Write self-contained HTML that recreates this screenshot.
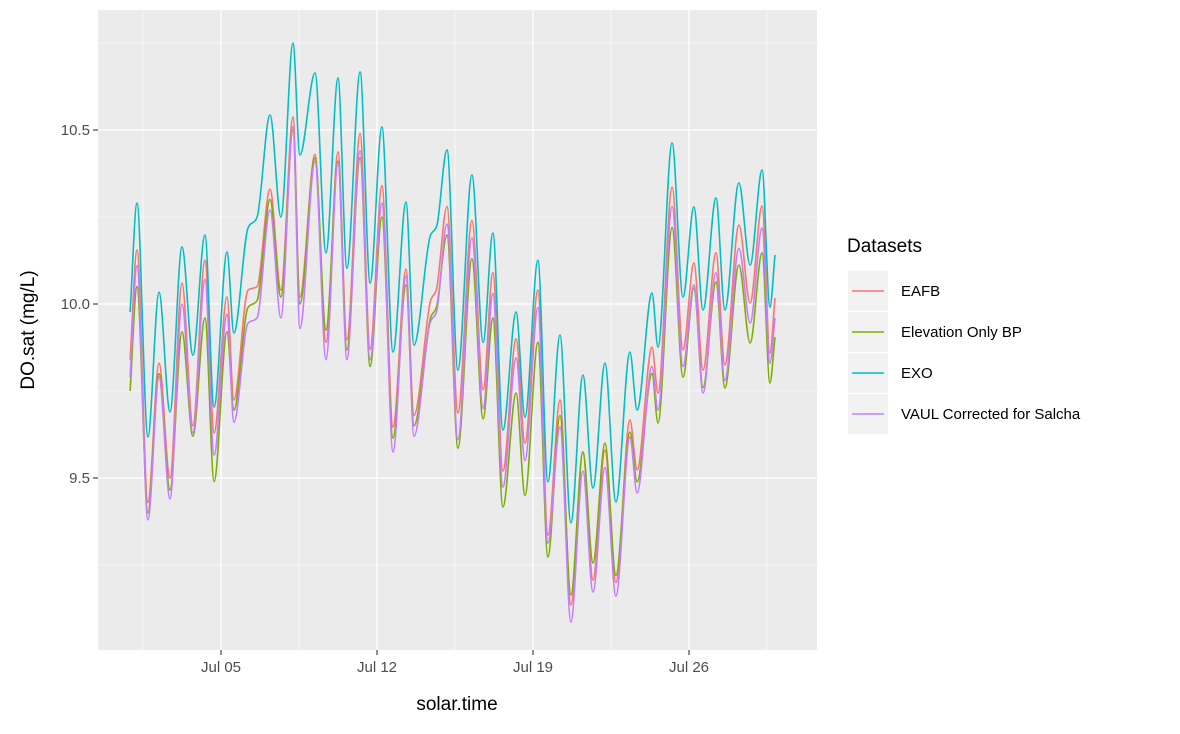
<!DOCTYPE html>
<html><head><meta charset="utf-8"><style>
body{margin:0;background:#fff;font-family:"Liberation Sans",Arial,sans-serif}
svg text{font-family:"Liberation Sans",Arial,sans-serif}
</style></head><body>
<svg id="chart" width="1180" height="729" viewBox="0 0 1180 729" xmlns="http://www.w3.org/2000/svg">
<rect width="1180" height="729" fill="#fff"/>
<rect x="98" y="10" width="719" height="640" fill="#ebebeb"/>
<g id="grid"></g>
<g id="series"></g>
<g id="axes"></g>
<text transform="translate(34,330) rotate(-90)" text-anchor="middle" font-size="19" fill="#000">DO.sat (mg/L)</text>
<text x="457" y="710" text-anchor="middle" font-size="19" fill="#000">solar.time</text>
<g>
<text x="847" y="252" font-size="19" fill="#000">Datasets</text>
<g id="legend-keys"></g>
</g>
</svg>
<script>
const days = [0.92,1.23,1.72,2.22,2.71,3.25,3.74,4.28,4.69,5.27,5.58,6.21,6.62,7.20,7.69,8.23,8.54,9.22,9.71,10.25,10.65,11.24,11.69,12.22,12.72,13.30,13.66,14.38,14.69,15.14,15.63,16.26,16.76,17.20,17.65,18.24,18.64,19.22,19.67,20.21,20.70,21.24,21.69,22.23,22.72,23.35,23.67,24.34,24.61,25.24,25.73,26.22,26.63,27.21,27.61,28.24,28.74,29.28,29.63,29.86];
const exo = [9.977,10.29,9.618,10.034,9.69,10.164,9.853,10.198,9.704,10.149,9.917,10.218,10.25,10.543,10.25,10.75,10.428,10.664,10.147,10.649,10.103,10.667,10.06,10.509,9.862,10.293,9.882,10.193,10.227,10.443,9.81,10.371,9.89,10.204,9.638,9.977,9.675,10.126,9.489,9.911,9.371,9.796,9.471,9.83,9.431,9.862,9.695,10.032,9.876,10.463,10.02,10.279,9.983,10.305,9.983,10.348,10.112,10.385,9.991,10.141];
const eafb = [9.84,10.155,9.43,9.83,9.50,10.06,9.65,10.126,9.63,10.02,9.724,10.04,10.05,10.33,10.04,10.537,10.02,10.43,9.89,10.437,9.897,10.49,9.87,10.34,9.646,10.10,9.68,10.003,10.05,10.28,9.687,10.24,9.753,10.09,9.52,9.90,9.60,10.04,9.336,9.724,9.135,9.575,9.207,9.58,9.20,9.667,9.523,9.876,9.744,10.336,9.868,10.118,9.81,10.147,9.825,10.227,10.003,10.282,9.859,10.017];
const elev = [9.75,10.05,9.40,9.80,9.465,9.92,9.62,9.96,9.49,9.92,9.695,9.99,10.01,10.30,10.02,10.50,10.00,10.42,9.925,10.41,9.868,10.42,9.82,10.25,9.615,10.055,9.65,9.954,9.997,10.198,9.586,10.13,9.67,9.96,9.417,9.744,9.45,9.89,9.273,9.68,9.164,9.575,9.256,9.60,9.22,9.632,9.489,9.80,9.658,10.22,9.79,10.046,9.76,10.063,9.759,10.112,9.888,10.147,9.773,9.905];
const vaul = [9.79,10.11,9.38,9.79,9.44,10.00,9.63,10.07,9.566,9.97,9.66,9.945,9.96,10.27,9.96,10.51,9.93,10.41,9.84,10.405,9.84,10.44,9.84,10.29,9.575,10.08,9.62,9.945,9.983,10.23,9.61,10.19,9.70,10.03,9.474,9.845,9.55,9.99,9.313,9.647,9.086,9.52,9.172,9.53,9.16,9.618,9.457,9.82,9.695,10.28,9.82,10.055,9.744,10.09,9.78,10.16,9.945,10.218,9.83,9.96];
const seriesNames = ["EAFB","Elevation Only BP","EXO","VAUL Corrected for Salcha"];
const yTicks = [9.5,10.0,10.5];
const yTickLabels = ["9.5","10.0","10.5"];
const xTicks = [5,12,19,26];
const xTickLabels = ["Jul 05","Jul 12","Jul 19","Jul 26"];

const NS="http://www.w3.org/2000/svg";
const X = d => 221 + (d-5)*22.286;
const Y = v => 304 - (v-10)*348;
function mk(tag, attrs, parent){const e=document.createElementNS(NS,tag);for(const k in attrs)e.setAttribute(k,attrs[k]);parent.appendChild(e);return e;}
const grid=document.getElementById('grid'), axes=document.getElementById('axes'), ser=document.getElementById('series');
[9.25,9.75,10.25,10.75].forEach(v=>{const l=mk('line',{x1:98,x2:817,y1:Y(v),y2:Y(v),stroke:'#fff','stroke-width':0.6},grid);

});
[1.5,8.5,15.5,22.5,29.5].forEach(d=>{const l=mk('line',{x1:X(d),x2:X(d),y1:10,y2:650,stroke:'#fff','stroke-width':0.6},grid);

});
yTicks.forEach((v,i)=>{const l=mk('line',{x1:98,x2:817,y1:Y(v),y2:Y(v),stroke:'#fff','stroke-width':1.3},grid);


const t=mk('line',{x1:93,x2:98,y1:Y(v),y2:Y(v),stroke:'#333','stroke-width':1.1},axes);


const tx=mk('text',{x:90,y:Y(v)+5,'text-anchor':'end','font-size':15,fill:'#4d4d4d'},axes);tx.textContent=yTickLabels[i];

});
xTicks.forEach((d,i)=>{const l=mk('line',{x1:X(d),x2:X(d),y1:10,y2:650,stroke:'#fff','stroke-width':1.3},grid);


const t=mk('line',{x1:X(d),x2:X(d),y1:650,y2:655,stroke:'#333','stroke-width':1.1},axes);


const tx=mk('text',{x:X(d),y:672,'text-anchor':'middle','font-size':15,fill:'#4d4d4d'},axes);tx.textContent=xTickLabels[i];

});
// monotone cubic (Fritsch-Carlson) path, no overshoot
function pathD(xs,vs){const p=xs.map((d,i)=>[X(d),Y(vs[i])]);const n=p.length;
const dl=[],m=[];for(let i=0;i<n-1;i++)dl.push((p[i+1][1]-p[i][1])/(p[i+1][0]-p[i][0]));
m[0]=dl[0];m[n-1]=dl[n-2];
for(let i=1;i<n-1;i++){m[i]=(dl[i-1]*dl[i]<=0)?0:(dl[i-1]+dl[i])/2;}
for(let i=0;i<n-1;i++){if(dl[i]===0){m[i]=0;m[i+1]=0;continue;}const a=m[i]/dl[i],b=m[i+1]/dl[i],s=a*a+b*b;if(s>9){const t=3/Math.sqrt(s);m[i]=t*a*dl[i];m[i+1]=t*b*dl[i];}}
let s=`M${p[0][0].toFixed(1)},${p[0][1].toFixed(1)}`;
for(let i=0;i<n-1;i++){const h=(p[i+1][0]-p[i][0])/3;
s+=` C${(p[i][0]+h).toFixed(1)},${(p[i][1]+m[i]*h).toFixed(1)} ${(p[i+1][0]-h).toFixed(1)},${(p[i+1][1]-m[i+1]*h).toFixed(1)} ${p[i+1][0].toFixed(1)},${p[i+1][1].toFixed(1)}`;}
return s;}
const colors=["#F8766D","#7CAE00","#00BFC4","#C77CFF"];
const vals=[eafb,elev,exo,vaul];
const slugs=["eafb-line","elevation-only-bp-line","exo-line","vaul-corrected-line"];
vals.forEach((v,i)=>{const p=mk('path',{d:pathD(days,v),fill:'none',stroke:colors[i],'stroke-width':1.6,'stroke-linejoin':'round'},ser);

});
const lk=document.getElementById('legend-keys');
seriesNames.forEach((n,i)=>{const cy=291+i*41;
const r=mk('rect',{x:848,y:cy-20,width:40,height:40,fill:'#f2f2f2'},lk);


const l=mk('line',{x1:852,x2:884,y1:cy,y2:cy,stroke:colors[i],'stroke-width':1.6},lk);


const t=mk('text',{x:901,y:cy+5,'font-size':15,fill:'#000'},lk);t.textContent=n;

});
</script>
</body></html>
